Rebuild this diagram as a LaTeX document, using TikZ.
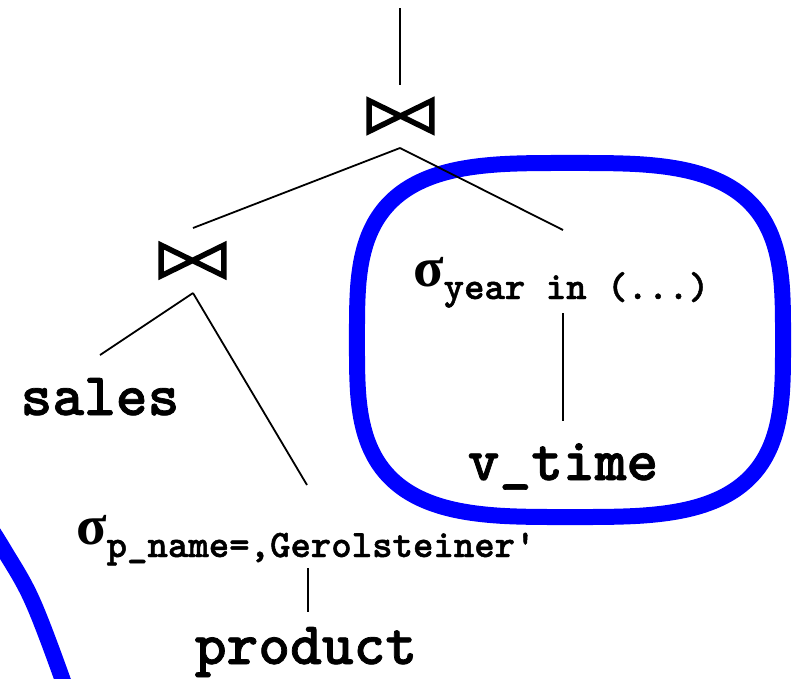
\documentclass[tikz,border=0pt]{standalone}
\usepackage{fontspec}
\newfontfamily\courfont{lmmonolt10-bold.otf}[FakeBold=1.2]
\newfontfamily\sigfont{Liberation Serif}
\definecolor{hlblue}{RGB}{0,0,255}
\tikzset{
  edge/.style={line width=1.8pt, line cap=butt},
  hl/.style={hlblue, line width=16pt},
  rel/.style={inner sep=0pt, anchor=base, font=\fontsize{60.5}{66}\selectfont\courfont},
  sel/.style={inner sep=0pt, anchor=base west},
  bowtie/.pic={\draw[line width=5.5pt, line join=miter] (-31.3,-15.3) -- (31.3,15.3) -- (31.3,-15.3) -- (-31.3,15.3) -- cycle;}
}
\newcommand{\sigmasel}[1]{{\sigfont\bfseries\fontsize{56}{60}\selectfont σ}\raisebox{-13pt}{\fontsize{38.9}{44}\selectfont\courfont #1}}
\begin{document}
\begin{tikzpicture}[x=1pt,y=-1pt]
\useasboundingbox (0,0) rectangle (798,678);
% highlight shapes
\draw[hl] plot[domain=1:359, samples=180, smooth]
  ({570+213*sign(cos(\x))*abs(cos(\x))^0.6}, {340-177*sign(sin(\x))*abs(sin(\x))^0.6}) -- cycle;
\draw[hl] plot[smooth, tension=0.6] coordinates {(-20,512) (4,550) (32,600) (62,678) (70,705)};
% join operators
\pic (j1) at (400.5,116) {bowtie};
\pic (j2) at (192.5,260.5) {bowtie};
% relation and selection nodes
\node[rel] (sales) at (100,415) {sales};
\node[rel] (vtime) at (563,480) {v\_time};
\node[rel] (product) at (306,664) {product};
\node[sel] (selyear) at (413,286) {\sigmasel{year in (...)}};
\node[sel] (selname) at (76,544) {\sigmasel{p\_name=,Gerolsteiner'}};
% connector end points
\coordinate (root) at (400,8);
\coordinate (j1t) at (400,85);
\coordinate (j1b) at (400,148);
\coordinate (j2t) at (193,228);
\coordinate (syt) at (563,230);
\coordinate (syb) at (563,313);
\coordinate (vtt) at (563,421);
\coordinate (j2b) at (193,293);
\coordinate (sat) at (100,355);
\coordinate (snt) at (307,485);
\coordinate (snb) at (308,568);
\coordinate (prt) at (308,612);
% connectors
\draw[edge] (root) -- (j1t);
\draw[edge] (j1b) -- (j2t);
\draw[edge] (j1b) -- (syt);
\draw[edge] (syb) -- (vtt);
\draw[edge] (j2b) -- (sat);
\draw[edge] (j2b) -- (snt);
\draw[edge] (snb) -- (prt);
\end{tikzpicture}
\end{document}
